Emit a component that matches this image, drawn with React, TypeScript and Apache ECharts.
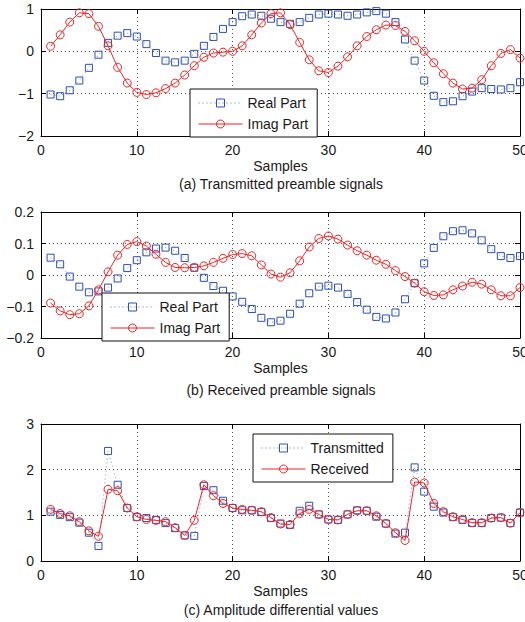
import React, { useEffect, useRef } from "react";
import * as echarts from "echarts";

const samples = [1,2,3,4,5,6,7,8,9,10,11,12,13,14,15,16,17,18,19,20,21,22,23,24,25,26,27,28,29,30,31,32,33,34,35,36,37,38,39,40,41,42,43,44,45,46,47,48,49,50];

const txReal = [-1.02,-1.06,-0.92,-0.69,-0.39,-0.08,0.20,0.37,0.43,0.35,0.17,-0.04,-0.22,-0.26,-0.22,-0.06,0.13,0.34,0.53,0.69,0.83,0.87,0.84,0.77,0.69,0.65,0.69,0.79,0.87,0.89,0.87,0.84,0.87,0.92,0.95,0.89,0.69,0.28,-0.22,-0.69,-1.05,-1.20,-1.18,-1.06,-0.95,-0.87,-0.89,-0.90,-0.87,-0.73];
const txImag = [0.12,0.39,0.69,0.91,0.89,0.59,0.13,-0.38,-0.75,-0.97,-1.02,-0.98,-0.88,-0.75,-0.56,-0.34,-0.14,-0.04,-0.02,0.00,0.13,0.39,0.67,0.89,0.91,0.63,0.21,-0.20,-0.46,-0.50,-0.35,-0.13,0.13,0.35,0.51,0.62,0.61,0.47,0.25,0.00,-0.27,-0.53,-0.75,-0.89,-0.87,-0.67,-0.34,-0.05,0.04,-0.16];

const rxReal = [0.055,0.034,-0.005,-0.037,-0.055,-0.052,-0.04,-0.011,0.022,0.047,0.072,0.084,0.087,0.077,0.054,0.023,-0.009,-0.035,-0.05,-0.068,-0.085,-0.108,-0.136,-0.15,-0.145,-0.123,-0.091,-0.058,-0.037,-0.034,-0.04,-0.06,-0.086,-0.11,-0.133,-0.138,-0.119,-0.077,-0.026,0.037,0.086,0.123,0.139,0.142,0.132,0.11,0.082,0.06,0.054,0.06];
const rxImag = [-0.089,-0.114,-0.126,-0.123,-0.098,-0.047,0.01,0.063,0.097,0.106,0.092,0.066,0.04,0.024,0.023,0.024,0.029,0.04,0.053,0.065,0.068,0.061,0.032,0.003,-0.007,0.007,0.045,0.089,0.116,0.124,0.114,0.095,0.077,0.063,0.047,0.034,0.014,-0.005,-0.026,-0.053,-0.065,-0.063,-0.047,-0.035,-0.023,-0.029,-0.047,-0.066,-0.066,-0.04];

const ampTransmitted = [1.08,1.01,0.96,0.84,0.62,0.33,2.41,1.67,1.16,0.96,0.94,0.90,0.83,0.72,0.56,0.55,1.64,1.55,1.32,1.16,1.11,1.11,1.07,0.94,0.82,0.79,1.10,1.21,1.02,0.91,0.90,1.02,1.11,1.10,0.97,0.82,0.60,0.62,2.05,1.52,1.19,1.06,0.96,0.90,0.83,0.83,0.94,0.95,0.83,1.06];
const ampReceived = [1.13,1.04,0.99,0.86,0.66,0.54,1.57,1.54,1.16,0.97,0.91,0.89,0.86,0.73,0.56,0.89,1.67,1.43,1.26,1.16,1.13,1.11,1.08,0.95,0.81,0.80,1.04,1.13,1.02,0.91,0.90,1.02,1.10,1.10,0.99,0.82,0.62,0.45,1.73,1.71,1.26,1.08,0.97,0.91,0.84,0.84,0.94,0.95,0.83,1.06];

const captions = ["(a) Transmitted preamble signals", "(b) Received preamble signals", "(c) Amplitude differential values"];
const xName = "Samples";
const yRanges = [[-2, 1, 1], [-0.2, 0.2, 0.1], [0, 3, 1]];
const xRange = [0, 50, 10];

const FONT = "'Liberation Sans', Arial, Helvetica, sans-serif";
const BLUE = "#2f4fb4";
const RED = "#f02424";
const TXT = "#1a1a1a";
const CLEAR = "rgba(255,255,255,0)";

export default function App() {
  const ref = useRef<HTMLDivElement>(null);
  useEffect(() => {
    if (!ref.current) return;
    const chart = echarts.init(ref.current, undefined, { renderer: "svg" });
    const grids = [
      { left: 41, right: 5, top: 9, height: 127, outerBoundsMode: "none" },
      { left: 41, right: 5, top: 212, height: 126, outerBoundsMode: "none" },
      { left: 41, right: 5, top: 424, height: 137, outerBoundsMode: "none" },
    ];
    const fmtY = (v: number) => String(+v.toFixed(2)).replace("-", "\u2212");
    const line = { show: true, onZero: false, lineStyle: { color: "#000", width: 1 } };
    const tick = { show: true, inside: true, length: 5, lineStyle: { color: "#000" } };
    const split = { show: true, lineStyle: { color: "#555", type: [1, 3], width: 1 } };
    const xAxes: any[] = [];
    const yAxes: any[] = [];
    grids.forEach((_, gi) => {
      xAxes.push({
        gridIndex: gi, type: "value", min: xRange[0], max: xRange[1], interval: xRange[2],
        position: "bottom",
        name: xName, nameLocation: "middle", nameGap: 23,
        nameTextStyle: { fontSize: 14, color: TXT, fontFamily: FONT },
        axisLine: line, axisTick: tick,
        axisLabel: { fontSize: 14, color: TXT, fontFamily: FONT, margin: 7 },
        splitLine: split,
      });
      xAxes.push({
        gridIndex: gi, type: "value", min: xRange[0], max: xRange[1], interval: xRange[2],
        position: "top",
        axisLine: line, axisTick: tick,
        axisLabel: { show: false },
        splitLine: { show: false },
      });
      const [mn, mx, iv] = yRanges[gi];
      yAxes.push({
        gridIndex: gi, type: "value", min: mn, max: mx, interval: iv, position: "left",
        axisLine: line, axisTick: tick,
        axisLabel: { fontSize: 14, color: TXT, fontFamily: FONT, margin: 7, formatter: fmtY },
        splitLine: split,
      });
      yAxes.push({
        gridIndex: gi, type: "value", min: mn, max: mx, interval: iv, position: "right",
        axisLine: line, axisTick: tick,
        axisLabel: { show: false },
        splitLine: { show: false },
      });
    });

    const blueSeries = (name: string, gi: number, vals: number[]) => ({
      name, type: "line", xAxisIndex: gi * 2, yAxisIndex: gi * 2,
      data: samples.map((s, i) => [s, vals[i]]),
      symbol: "rect", symbolSize: 7,
      itemStyle: { color: CLEAR, borderColor: BLUE, borderWidth: 1 },
      lineStyle: { color: BLUE, width: 0.8, type: [1, 3], opacity: 0.8 },
      z: 2,
    });
    const redSeries = (name: string, gi: number, vals: number[]) => ({
      name, type: "line", xAxisIndex: gi * 2, yAxisIndex: gi * 2,
      data: samples.map((s, i) => [s, vals[i]]),
      symbol: "circle", symbolSize: 8,
      itemStyle: { color: CLEAR, borderColor: RED, borderWidth: 1 },
      lineStyle: { color: RED, width: 1 },
      z: 3,
    });

    const series = [
      blueSeries("Real Part", 0, txReal), redSeries("Imag Part", 0, txImag),
      blueSeries("Real Part ", 1, rxReal), redSeries("Imag Part ", 1, rxImag),
      blueSeries("Transmitted", 2, ampTransmitted), redSeries("Received", 2, ampReceived),
    ];

    const legendPos = [
      { left: 190, top: 89 },
      { left: 102, top: 293 },
      { left: 253, top: 434 },
    ];
    const legendData = [
      ["Real Part", "Imag Part"],
      ["Real Part ", "Imag Part "],
      ["Transmitted", "Received"],
    ];
    const legends = legendPos.map((p, i) => ({
      ...p, orient: "vertical", data: legendData[i],
      formatter: (n: string) => n.trim(),
      backgroundColor: "#fff", borderColor: "#111", borderWidth: 1,
      padding: [7, 9, 6, 8], itemGap: 7, itemWidth: 44, itemHeight: 10,
      itemStyle: { borderWidth: 1 },
      lineStyle: { width: 1 },
      textStyle: { fontSize: 14, color: TXT, fontFamily: FONT },
      selectedMode: false, z: 10,
    }));

    const captionY = [184, 390, 610];
    chart.setOption({
      animation: false,
      backgroundColor: "#fff",
      grid: grids,
      xAxis: xAxes,
      yAxis: yAxes,
      legend: legends,
      series,
      graphic: captions.map((c, i) => ({
        type: "text", x: 281, y: captionY[i],
        style: { text: c, fontSize: 14, fill: TXT, fontFamily: FONT, textAlign: "center", textVerticalAlign: "middle" },
      })),
    });
    return () => chart.dispose();
  }, []);
  return <div ref={ref} style={{ position: "fixed", left: 0, top: 0, width: 525, height: 622 }} />;
}
